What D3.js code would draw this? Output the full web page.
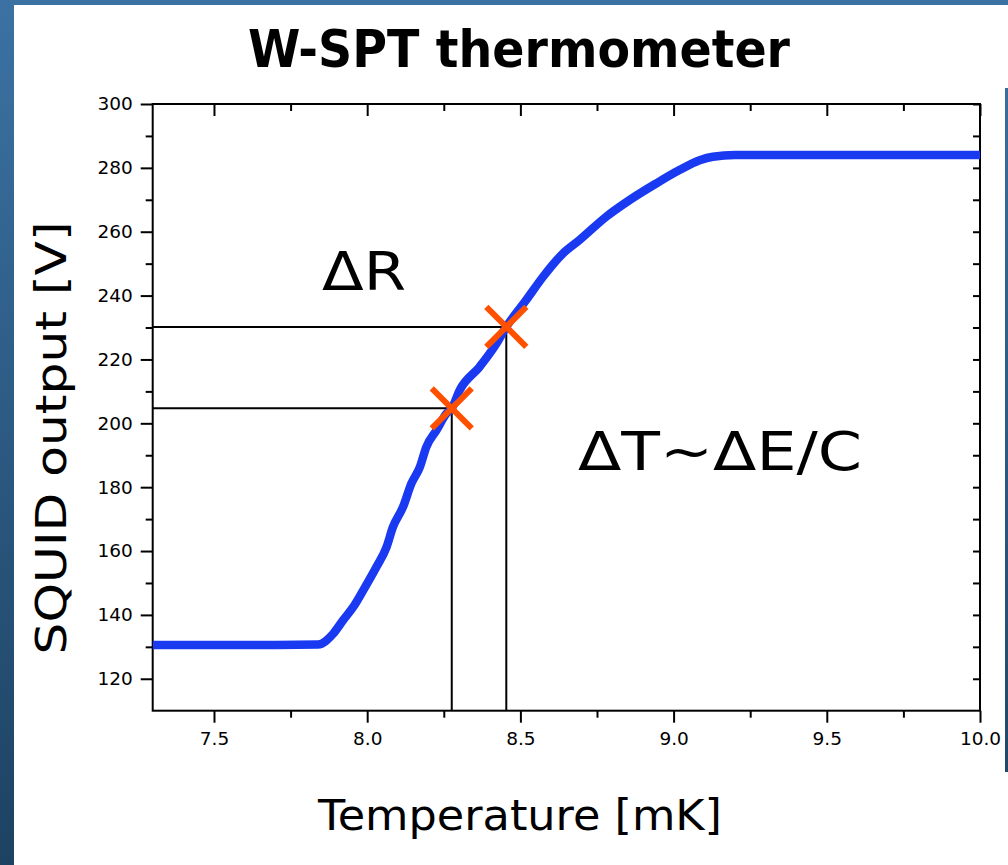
<!DOCTYPE html>
<html><head><meta charset="utf-8">
<script src="https://cdn.jsdelivr.net/npm/d3@7"></script>
<style>html,body{margin:0;padding:0;overflow:hidden;background:#fff}</style>
</head><body>
<svg id="chart" width="1008" height="865"></svg>
<script>
// ---- data ----
const temperature = [7.30, 7.50, 7.70, 7.84, 7.889, 7.921, 7.954, 7.987, 8.030, 8.063, 8.084, 8.117, 8.144, 8.172, 8.193, 8.226, 8.259, 8.276, 8.302, 8.367, 8.422, 8.454, 8.519, 8.574, 8.639, 8.693, 8.780, 8.856, 8.943, 9.019, 9.085, 9.128, 9.20, 9.50, 9.80, 10.0];
const squidOutput = [130.6, 130.6, 130.6, 130.7, 134.1, 138.3, 142.4, 147.7, 155.0, 161.2, 167.5, 173.8, 181.1, 186.3, 192.6, 197.8, 203.1, 204.7, 210.4, 217.7, 225.0, 230.2, 238.6, 245.9, 253.2, 257.4, 264.7, 269.9, 275.1, 279.3, 282.4, 283.5, 284.0, 284.0, 284.0, 284.0];
const markerTemps = [8.276, 8.454];
const markerOutputs = [204.7, 230.2];
const xMajorTicks = [7.5, 8.0, 8.5, 9.0, 9.5, 10.0];
const xTickLabels = ["7.5", "8.0", "8.5", "9.0", "9.5", "10.0"];
const xMinorTicks = [7.75, 8.25, 8.75, 9.25, 9.75];
const yMajorTicks = [120, 140, 160, 180, 200, 220, 240, 260, 280, 300];
const yTickLabels = ["120", "140", "160", "180", "200", "220", "240", "260", "280", "300"];
const yMinorTicks = [110, 130, 150, 170, 190, 210, 230, 250, 270, 290];
const titleText = "W-SPT thermometer";
const xLabel = "Temperature [mK]";
const yLabel = "SQUID output [V]";
const annotations = ["\u0394R", "\u0394T~\u0394E/C"];

// ---- drawing ----
(function () {
const W = 1008, H = 865;
const svg = d3.select("#chart");
const defs = svg.append("defs");
const grad = defs.append("linearGradient").attr("id", "bg").attr("gradientUnits", "userSpaceOnUse")
  .attr("x1", 0).attr("y1", 0).attr("x2", 0).attr("y2", H);
grad.append("stop").attr("offset", 0).attr("stop-color", "#3b72a3");
grad.append("stop").attr("offset", 1).attr("stop-color", "#1d4262");

svg.append("rect").attr("width", W).attr("height", H).attr("fill", "url(#bg)");
svg.append("rect").attr("x", 14).attr("y", 5).attr("width", W - 14).attr("height", H - 5).attr("fill", "#fff");
svg.append("rect").attr("x", 1005).attr("y", 88).attr("width", 3).attr("height", 684).attr("fill", "url(#bg)");

const pL = 152.7, pR = 980, pT = 104, pB = 710.7;
const x = d3.scaleLinear().domain([7.3, 10.0]).range([pL, pR]);
const y = d3.scaleLinear().domain([110, 300]).range([pB, pT]);

const font = "'Comic Sans MS', 'DejaVu Sans', sans-serif";
const tickFont = "'DejaVu Sans', sans-serif";

function styleAxis(g) {
  g.select(".domain").remove();
  g.selectAll(".tick line").attr("stroke", "#000").attr("stroke-width", 2);
  g.selectAll(".tick text").attr("font-family", tickFont).attr("font-size", 18.5).attr("fill", "#000");
}

// left axis
svg.append("g").attr("transform", `translate(${pL},0)`)
  .call(d3.axisLeft(y).tickValues(yMajorTicks).tickSize(12).tickPadding(8).tickFormat((d, i) => yTickLabels[i]))
  .call(styleAxis);
svg.append("g").attr("transform", `translate(${pL},0)`)
  .call(d3.axisLeft(y).tickValues(yMinorTicks.filter(v => v > 110)).tickSize(7).tickFormat(""))
  .call(styleAxis);
// right axis (inward)
svg.append("g").attr("transform", `translate(${pR},0)`)
  .call(d3.axisRight(y).tickValues(yMajorTicks.concat(yMinorTicks.filter(v => v > 110))).tickSize(-7).tickFormat(""))
  .call(styleAxis);
// bottom axis
svg.append("g").attr("transform", `translate(0,${pB})`)
  .call(d3.axisBottom(x).tickValues(xMajorTicks).tickSize(12).tickPadding(9).tickFormat((d, i) => xTickLabels[i]))
  .call(styleAxis);
svg.append("g").attr("transform", `translate(0,${pB})`)
  .call(d3.axisBottom(x).tickValues(xMinorTicks).tickSize(7).tickFormat(""))
  .call(styleAxis);
// top axis (inward)
svg.append("g").attr("transform", `translate(0,${pT})`)
  .call(d3.axisTop(x).tickValues(xMajorTicks).tickSize(-12).tickFormat(""))
  .call(styleAxis);
svg.append("g").attr("transform", `translate(0,${pT})`)
  .call(d3.axisTop(x).tickValues(xMinorTicks).tickSize(-7).tickFormat(""))
  .call(styleAxis);

// frame
svg.append("rect").attr("x", pL).attr("y", pT).attr("width", pR - pL).attr("height", pB - pT)
  .attr("fill", "none").attr("stroke", "#000").attr("stroke-width", 2);

// clip
defs.append("clipPath").attr("id", "plotclip").append("rect")
  .attr("x", pL).attr("y", pT).attr("width", pR - pL).attr("height", pB - pT);

// guide lines
const guides = svg.append("g");
markerTemps.forEach((t, i) => {
  guides.append("line").attr("x1", x(7.3)).attr("x2", x(t)).attr("y1", y(markerOutputs[i])).attr("y2", y(markerOutputs[i]))
    .attr("stroke", "#000").attr("stroke-width", 2);
  guides.append("line").attr("x1", x(t)).attr("x2", x(t)).attr("y1", y(markerOutputs[i])).attr("y2", y(110))
    .attr("stroke", "#000").attr("stroke-width", 2);
});

// data curve
const pts = temperature.map((t, i) => [t, squidOutput[i]]);
svg.append("path").attr("clip-path", "url(#plotclip)")
  .datum(pts)
  .attr("d", d3.line().x(d => x(d[0])).y(d => y(d[1])).curve(d3.curveMonotoneX))
  .attr("fill", "none").attr("stroke", "#1a3af2").attr("stroke-width", 8.5).attr("stroke-linejoin", "round");

// markers
const mk = svg.append("g");
markerTemps.forEach((t, i) => {
  const cx = x(t), cy = y(markerOutputs[i]), s = 20;
  mk.append("path").attr("d", `M${cx - s},${cy - s}L${cx + s},${cy + s}M${cx - s},${cy + s}L${cx + s},${cy - s}`)
    .attr("stroke", "#ff5000").attr("stroke-width", 6).attr("fill", "none");
});

// texts
svg.append("text").attr("x", 248).attr("y", 67).attr("font-family", font).attr("font-weight", "bold")
  .attr("font-size", 52).attr("textLength", 542).attr("lengthAdjust", "spacingAndGlyphs").text(titleText);
svg.append("text").attr("x", 318).attr("y", 830).attr("font-family", font)
  .attr("font-size", 42).attr("textLength", 404).attr("lengthAdjust", "spacingAndGlyphs").text(xLabel);
svg.append("text").attr("transform", "translate(66,438) rotate(-90)").attr("text-anchor", "middle")
  .attr("font-family", font).attr("font-size", 42).attr("textLength", 433).attr("lengthAdjust", "spacingAndGlyphs").text(yLabel);
svg.append("text").attr("x", 322).attr("y", 290).attr("font-family", font)
  .attr("font-size", 54).attr("textLength", 84).attr("lengthAdjust", "spacingAndGlyphs").text(annotations[0]);
svg.append("text").attr("x", 578).attr("y", 470).attr("font-family", font)
  .attr("font-size", 54).attr("textLength", 284).attr("lengthAdjust", "spacingAndGlyphs").text(annotations[1]);
})();
</script>
</body></html>
